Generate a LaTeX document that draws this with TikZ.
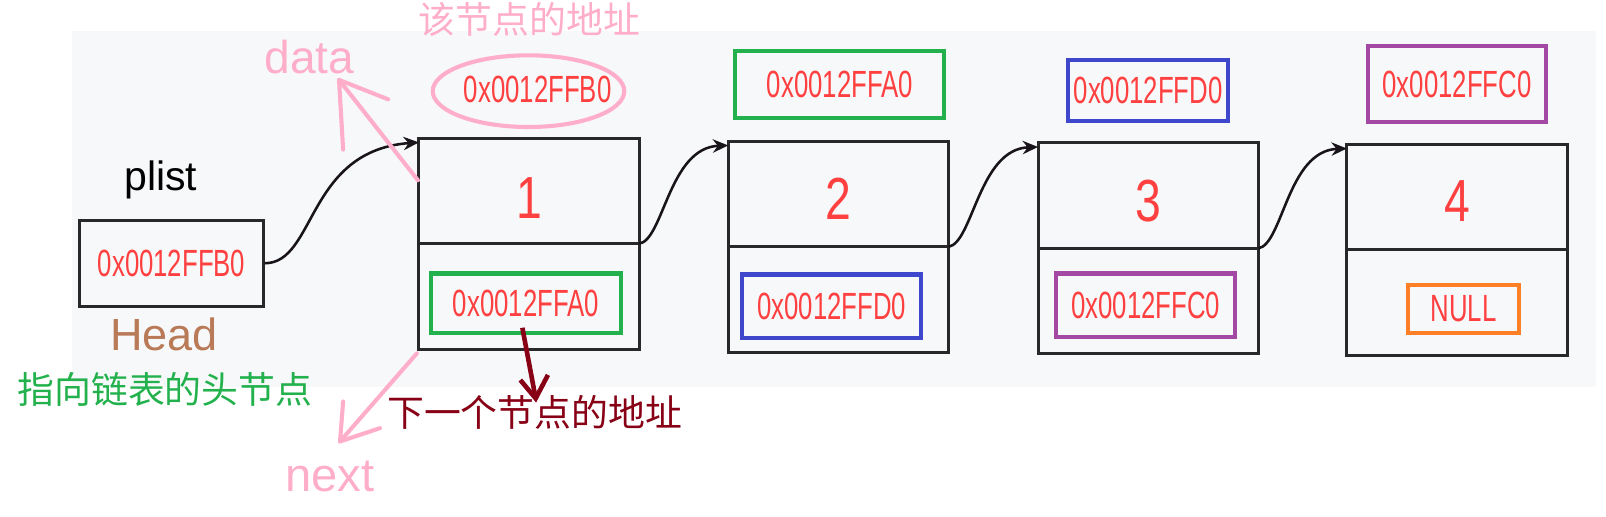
\documentclass[tikz,border=0pt]{standalone}
\usepackage{fontspec}
\usepackage{graphicx}
\setmainfont{Liberation Sans}
\newfontfamily\cjk{Noto Sans CJK SC}
\usetikzlibrary{arrows.meta,shapes.geometric}
\definecolor{bgc}{RGB}{247,248,250}
\definecolor{txtred}{RGB}{255,64,64}
\definecolor{pinkc}{RGB}{255,174,201}
\definecolor{greenc}{RGB}{34,177,76}
\definecolor{bluec}{RGB}{63,72,204}
\definecolor{purplec}{RGB}{163,73,164}
\definecolor{orangec}{RGB}{255,127,39}
\definecolor{brownc}{RGB}{185,122,87}
\definecolor{darkredc}{RGB}{136,0,21}
\definecolor{boxline}{RGB}{40,40,40}
\definecolor{curvec}{RGB}{25,20,25}
\newcommand\addrtxt[1]{\scalebox{0.68}[1]{\fontsize{37}{40}\selectfont #1}}
\newcommand\numtxt[1]{\scalebox{0.78}[1]{\fontsize{58}{60}\selectfont #1}}
\tikzset{
  cell/.style={draw=boxline, line width=3pt, rectangle, inner sep=0pt, outer sep=0pt, minimum width=215pt, minimum height=103pt},
  plistbox/.style={draw=boxline, line width=3pt, rectangle, inner sep=0pt, minimum width=179pt, minimum height=84pt, text=txtred},
  addrbox/.style={rectangle, line width=4pt, inner sep=0pt, text=txtred},
  numlabel/.style={text=txtred, inner sep=0pt},
  link/.style={curvec, line width=2.5pt, -{Stealth[length=15pt,width=13pt]}},
  pinkarrow/.style={pinkc, line width=4pt, line cap=round, line join=round},
  cjktext/.style={font=\cjk\fontsize{36}{40}\selectfont, inner sep=0pt},
}
\begin{document}
\begin{tikzpicture}[x=1pt,y=-1pt]
\useasboundingbox (0,0) rectangle (1568,504);
\fill[bgc] (70,30) rectangle (1558,378);

% list cells
\node[cell] (d1) at (516.5,186.5) {};
\node[cell, anchor=north] (n1) at (d1.south) {};
\node[cell] (d2) at (818.5,189.5) {};
\node[cell, anchor=north] (n2) at (d2.south) {};
\node[cell] (d3) at (1121,191) {};
\node[cell, anchor=north] (n3) at (d3.south) {};
\node[cell] (d4) at (1422.5,192.5) {};
\node[cell, anchor=north] (n4) at (d4.south) {};

\node[numlabel] (v1) at ([yshift=-7pt]d1.center) {\numtxt{1}};
\node[numlabel] (v2) at ([yshift=-5pt]d2.center) {\numtxt{2}};
\node[numlabel] (v3) at ([yshift=-5pt]d3.center) {\numtxt{3}};
\node[numlabel] (v4) at ([yshift=-4pt]d4.center) {\numtxt{4}};

% next-address boxes
\node[addrbox, draw=greenc, minimum width=185pt, minimum height=58pt] (p1) at (513.5,296) {\addrtxt{0x0012FFA0}};
\node[addrbox, draw=bluec, minimum width=175pt, minimum height=62pt] (p2) at (812,299) {\addrtxt{0x0012FFD0}};
\node[addrbox, draw=purplec, minimum width=175pt, minimum height=62pt] (p3) at (1118.5,298) {\addrtxt{0x0012FFC0}};
\node[addrbox, draw=orangec, minimum width=108pt, minimum height=47pt] (p4) at (1429,301.5) {\addrtxt{NULL}};

% own-address labels
\node[ellipse, draw=pinkc, line width=4pt, minimum width=187pt, minimum height=70pt, inner sep=0pt] (a1) at (516,89) {};
\node[numlabel] (a1t) at (525,87) {\addrtxt{0x0012FFB0}};
\node[addrbox, draw=greenc, minimum width=204pt, minimum height=65pt] (a2) at (820,82.5) {\addrtxt{0x0012FFA0}};
\node[addrbox, draw=bluec, minimum width=156pt, minimum height=59pt] (a3) at (1121,88.5) {\addrtxt{0x0012FFD0}};
\node[addrbox, draw=purplec, minimum width=173pt, minimum height=74pt] (a4) at (1422.5,82) {\addrtxt{0x0012FFC0}};

% head pointer
\node[plistbox] (plist) at (167.5,257) {\addrtxt{0x0012FFB0}};
\node[inner sep=0pt, font=\fontsize{40}{44}\selectfont] (plistlbl) at (157,176) {plist};
\node[inner sep=0pt, text=brownc, font=\fontsize{44}{48}\selectfont] (head) at (160,326) {Head};
\node[cjktext, text=greenc] (headcn) at (161,380) {指向链表的头节点};

% texts
\node[cjktext, text=pinkc] (selfaddr) at (517,19) {该节点的地址};
\node[inner sep=0pt, text=pinkc, font=\fontsize{45}{48}\selectfont] (data) at (302,56) {data};
\node[inner sep=0pt, text=pinkc, font=\fontsize{46}{48}\selectfont] (next) at (322,465) {next};
\node[cjktext, text=darkredc] (nextaddr) at (522,403) {下一个节点的地址};

% links
\draw[link] (plist.east) .. controls +(50,0) and +(-110,8) .. ([yshift=-4pt]d1.north west);
\draw[link] (n1.north east) .. controls +(24,-4) and +(-58,2) .. ([yshift=-4pt]d2.north west);
\draw[link] (n2.north east) .. controls +(24,-4) and +(-58,2) .. ([yshift=-4pt]d3.north west);
\draw[link] (n3.north east) .. controls +(24,-4) and +(-58,2) .. ([yshift=-4pt]d4.north west);

% pink hand-drawn arrows
\coordinate (dtail) at (408,176);
\coordinate (dtip) at (331,78);
\coordinate (darm1) at (335,146);
\coordinate (darm2) at (379,97);
\draw[pinkarrow] (dtail) -- (dtip);
\draw[pinkarrow] (darm1) -- (dtip) -- (darm2);
\coordinate (ntail) at (407,345);
\coordinate (ntip) at (332,431);
\coordinate (narm1) at (335,392);
\coordinate (narm2) at (371,418);
\draw[pinkarrow] (ntail) -- (ntip);
\draw[pinkarrow] (narm1) -- (ntip) -- (narm2);

% dark red arrow
\coordinate (rstart) at (510,320);
\coordinate (rtip) at (523,389);
\coordinate (rarm1) at (508,371);
\coordinate (rarm2) at (535,366);
\draw[darkredc, line width=4.5pt] (rstart) -- (rtip);
\draw[darkredc, line width=4.5pt, line join=miter] (rarm1) -- (rtip) -- (rarm2);
\end{tikzpicture}
\end{document}
